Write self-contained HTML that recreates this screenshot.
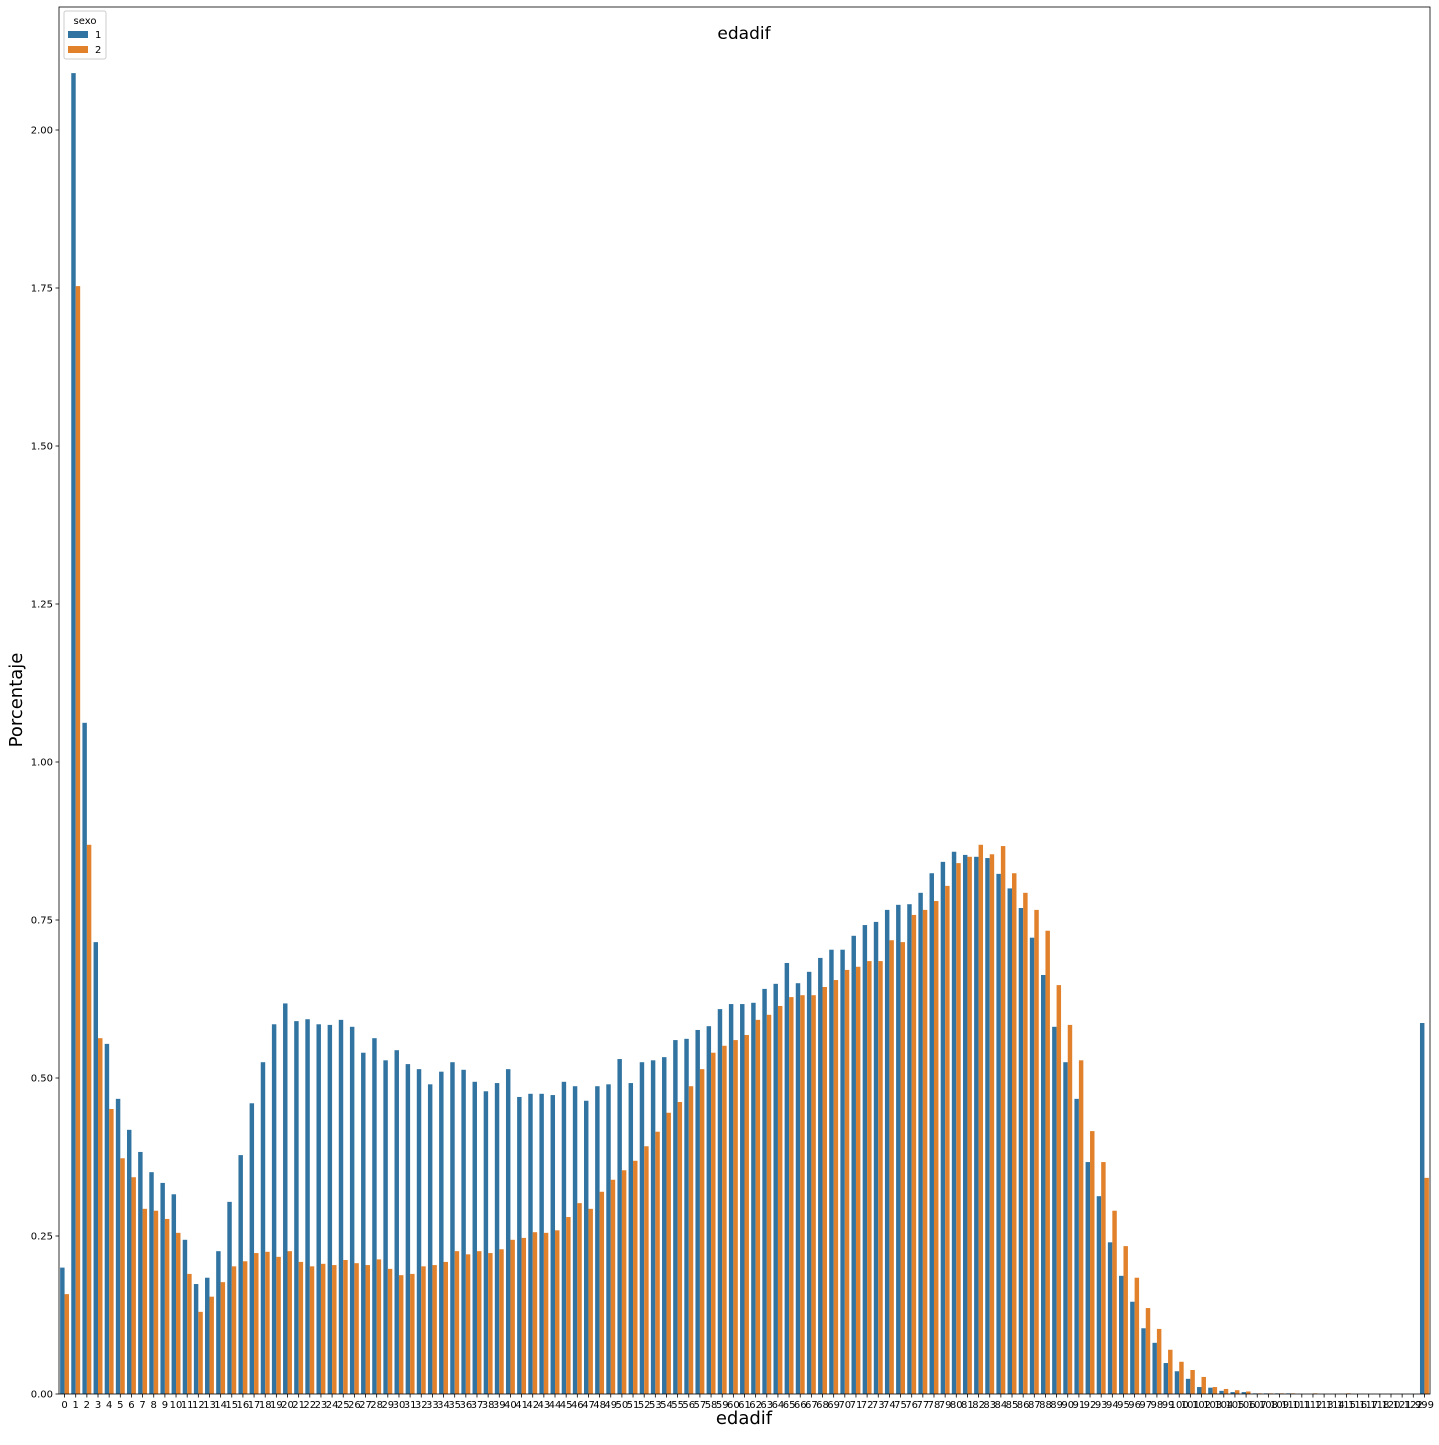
<!DOCTYPE html>
<html><head><meta charset="utf-8"><style>
body{margin:0;background:#fff;font-family:"Liberation Sans","DejaVu Sans",sans-serif;}
svg text{font-family:"DejaVu Sans","Liberation Sans",sans-serif;}
</style></head><body>
<svg id="chart" width="1439" height="1440" xmlns="http://www.w3.org/2000/svg">
<rect x="0" y="0" width="1439" height="1440" fill="#fff"/>
<g id="bars"></g><g id="axes"></g>
<text x="744" y="39" font-size="17" text-anchor="middle">edadif</text>
<text x="744" y="1424" font-size="18" text-anchor="middle">edadif</text>
<text x="22" y="700" font-size="18" text-anchor="middle" transform="rotate(-90 22 700)">Porcentaje</text>
<g>
<rect x="64" y="11" width="42" height="48" fill="#fff" stroke="#ccc" rx="2"/>
<text x="85" y="24" font-size="10" text-anchor="middle">sexo</text>
<rect x="68" y="31" width="20" height="7" fill="#3274a1"/>
<text x="95" y="38" font-size="10">1</text>
<rect x="68" y="46" width="20" height="7" fill="#e1812c"/>
<text x="95" y="53" font-size="10">2</text>
</g>
</svg>
<script>
const categories = [];
for (let i = 0; i <= 118; i++) categories.push(String(i));
categories.push('120','121','122','999');
const sexo1 = [0.20,2.09,1.062,0.715,0.554,0.467,0.418,0.383,0.351,0.334,0.316,0.244,0.174,0.184,0.226,0.304,0.378,0.46,0.525,0.585,
0.618,0.59,0.593,0.585,0.584,0.592,0.581,0.54,0.563,0.528,0.544,0.522,0.514,0.49,0.51,0.525,0.513,0.494,0.479,0.492,
0.514,0.47,0.475,0.475,0.473,0.494,0.487,0.464,0.487,0.49,0.53,0.492,0.525,0.528,0.533,0.56,0.562,0.576,0.582,0.609,
0.617,0.617,0.619,0.641,0.649,0.682,0.65,0.668,0.69,0.703,0.703,0.725,0.742,0.747,0.766,0.774,0.775,0.793,0.824,0.842,
0.858,0.853,0.85,0.848,0.823,0.8,0.769,0.722,0.663,0.581,0.525,0.467,0.367,0.313,0.24,0.187,0.146,0.104,0.081,0.049,
0.036,0.024,0.011,0.01,0.005,0.003,0.003,0.001,0.001,0.001,0.001,0,0,0,0,0,0,0,0,0,0,0,0.587];
const sexo2 = [0.158,1.753,0.869,0.563,0.451,0.373,0.343,0.293,0.29,0.277,0.255,0.19,0.13,0.154,0.177,0.202,0.21,0.223,0.225,0.217,
0.226,0.209,0.202,0.206,0.204,0.212,0.207,0.204,0.213,0.198,0.188,0.19,0.202,0.204,0.209,0.226,0.221,0.226,0.223,0.229,
0.244,0.247,0.256,0.255,0.259,0.28,0.302,0.293,0.32,0.339,0.354,0.369,0.392,0.415,0.445,0.462,0.487,0.514,0.54,0.551,
0.56,0.568,0.592,0.6,0.614,0.628,0.631,0.631,0.644,0.655,0.671,0.676,0.685,0.685,0.718,0.715,0.758,0.766,0.78,0.804,
0.84,0.85,0.869,0.854,0.867,0.824,0.793,0.766,0.733,0.647,0.584,0.528,0.416,0.367,0.29,0.234,0.184,0.136,0.103,0.07,
0.051,0.038,0.027,0.011,0.008,0.006,0.004,0.001,0.001,0.001,0.001,0,0.001,0,0,0.001,0,0,0,0,0,0,0.342];
const yTicks = [0,0.25,0.5,0.75,1.0,1.25,1.5,1.75,2.0];
const yTickLabels = ['0.00','0.25','0.50','0.75','1.00','1.25','1.50','1.75','2.00'];

const NS='http://www.w3.org/2000/svg';
const L=59,R=1430,T=7,B=1394;
const bw=(R-L)/categories.length;
const y=v=>B-v*632;
const xc=i=>L+bw*(i+0.5);
const bars=document.getElementById('bars'), axes=document.getElementById('axes');
function mk(tag,attrs,parent){const e=document.createElementNS(NS,tag);for(const k in attrs)e.setAttribute(k,attrs[k]);parent.appendChild(e);return e;}
[sexo1,sexo2].forEach((ser,s)=>{
  ser.forEach((v,i)=>{
    const x=xc(i)-0.4*bw+s*0.4*bw;
    const r=mk('rect',{x:x,y:y(v),width:0.4*bw,height:B-y(v),fill:s?'#e1812c':'#3274a1'},bars);
    
    
  });
});
const fr=mk('rect',{x:L,y:T,width:R-L,height:B-T,fill:'none',stroke:'#000','stroke-width':0.8},axes);


yTicks.forEach((v,i)=>{
  mk('line',{x1:L-3.5,x2:L,y1:y(v),y2:y(v),stroke:'#000','stroke-width':0.8},axes);
  const t=mk('text',{x:L-6,y:y(v)+3.5,'font-size':10,'text-anchor':'end'},axes);
  t.textContent=yTickLabels[i];
  
  
});
categories.forEach((c,i)=>{
  mk('line',{x1:xc(i),x2:xc(i),y1:B,y2:B+3.5,stroke:'#000','stroke-width':0.8},axes);
  const t=mk('text',{x:xc(i),y:B+14,'font-size':10,'text-anchor':'middle'},axes);
  t.textContent=c;
  
  
});
</script>
</body></html>
